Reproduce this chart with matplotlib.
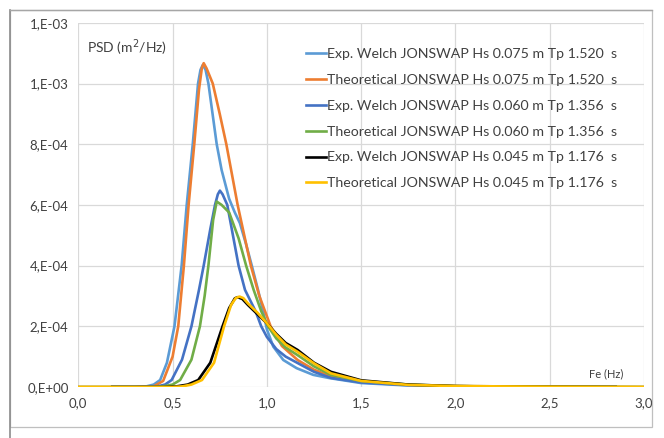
import matplotlib
matplotlib.use("Agg")
import matplotlib.pyplot as plt
from matplotlib.patches import Rectangle
from matplotlib.lines import Line2D

plt.rcParams['font.family'] = ['Lato', 'DejaVu Sans']

# Exp. Welch JONSWAP Hs 0.075 m Tp 1.520 s
f_exp75 = [0.18, 0.30, 0.36, 0.40, 0.434, 0.47, 0.51, 0.548, 0.575, 0.607, 0.635, 0.648, 0.66, 0.675, 0.69,
           0.734, 0.76, 0.80, 0.83, 0.857, 0.89, 0.92, 0.953, 0.98, 1.0, 1.034, 1.087, 1.158, 1.246, 1.335,
           1.5, 1.75, 2.0, 2.25, 2.85]
s_exp75 = [0.0, 0.0, 0.002, 0.008, 0.023, 0.08, 0.2, 0.4, 0.6, 0.8, 1.0, 1.045, 1.061, 1.045, 1.0,
           0.8, 0.715, 0.62, 0.575, 0.54, 0.47, 0.4, 0.32, 0.25, 0.19, 0.133, 0.089, 0.062, 0.04, 0.029,
           0.013, 0.005, 0.002, 0.001, 0.0]

# Theoretical JONSWAP Hs 0.075 m Tp 1.520 s
f_th75 = [0.0, 0.30, 0.40, 0.45, 0.50, 0.53, 0.56, 0.585, 0.615, 0.64, 0.655, 0.665, 0.68, 0.713, 0.75,
          0.785, 0.815, 0.845, 0.88, 0.915, 0.96, 1.02, 1.08, 1.163, 1.25, 1.34, 1.5, 1.75, 2.0, 2.5, 3.0]
s_th75 = [0.0, 0.0, 0.002, 0.02, 0.1, 0.2, 0.4, 0.6, 0.8, 0.98, 1.05, 1.067, 1.05, 1.0, 0.9,
          0.8, 0.7, 0.6, 0.5, 0.4, 0.3, 0.2, 0.135, 0.089, 0.057, 0.035, 0.018, 0.007, 0.003, 0.001, 0.0]

# Exp. Welch JONSWAP Hs 0.060 m Tp 1.356 s
f_exp60 = [0.18, 0.35, 0.42, 0.46, 0.495, 0.55, 0.60, 0.64, 0.665, 0.70, 0.725, 0.74, 0.751, 0.765, 0.79,
           0.82, 0.85, 0.884, 0.94, 0.97, 1.0, 1.05, 1.1, 1.163, 1.25, 1.34, 1.5, 1.75, 2.0, 2.25, 2.85]
s_exp60 = [0.0, 0.0, 0.002, 0.008, 0.023, 0.09, 0.2, 0.32, 0.4, 0.52, 0.6, 0.635, 0.647, 0.635, 0.6,
           0.5, 0.4, 0.32, 0.25, 0.2, 0.165, 0.125, 0.1, 0.079, 0.05, 0.03, 0.015, 0.006, 0.002, 0.001, 0.0]

# Theoretical JONSWAP Hs 0.060 m Tp 1.356 s
f_th60 = [0.0, 0.40, 0.45, 0.50, 0.54, 0.60, 0.645, 0.67, 0.69, 0.715, 0.734, 0.76, 0.80, 0.85, 0.89,
          0.93, 0.97, 1.006, 1.05, 1.1, 1.163, 1.25, 1.34, 1.5, 1.75, 2.0, 2.5, 3.0]
s_th60 = [0.0, 0.0, 0.002, 0.008, 0.023, 0.09, 0.2, 0.3, 0.4, 0.55, 0.611, 0.6, 0.575, 0.49, 0.4,
          0.32, 0.25, 0.2, 0.16, 0.13, 0.105, 0.068, 0.04, 0.02, 0.008, 0.003, 0.001, 0.0]

# Exp. Welch JONSWAP Hs 0.045 m Tp 1.176 s
f_exp45 = [0.18, 0.45, 0.52, 0.58, 0.636, 0.70, 0.765, 0.80, 0.83, 0.845, 0.87, 0.90, 0.95, 1.0, 1.05,
           1.1, 1.163, 1.25, 1.34, 1.5, 1.75, 2.0, 2.25, 2.85]
s_exp45 = [0.0, 0.0, 0.002, 0.008, 0.023, 0.08, 0.2, 0.26, 0.292, 0.296, 0.29, 0.27, 0.24, 0.21, 0.175,
           0.145, 0.122, 0.08, 0.05, 0.022, 0.008, 0.003, 0.001, 0.0]

# Theoretical JONSWAP Hs 0.045 m Tp 1.176 s
f_th45 = [0.0, 0.50, 0.55, 0.60, 0.656, 0.72, 0.773, 0.81, 0.835, 0.855, 0.875, 0.90, 0.95, 1.0, 1.05,
          1.1, 1.163, 1.25, 1.34, 1.5, 1.75, 2.0, 2.5, 3.0]
s_th45 = [0.0, 0.0, 0.002, 0.008, 0.023, 0.08, 0.2, 0.27, 0.293, 0.298, 0.293, 0.275, 0.245, 0.21, 0.172,
          0.14, 0.116, 0.078, 0.045, 0.02, 0.007, 0.003, 0.001, 0.0]

labels = ["Exp. Welch JONSWAP Hs 0.075 m Tp 1.520  s",
          "Theoretical JONSWAP Hs 0.075 m Tp 1.520  s",
          "Exp. Welch JONSWAP Hs 0.060 m Tp 1.356  s",
          "Theoretical JONSWAP Hs 0.060 m Tp 1.356  s",
          "Exp. Welch JONSWAP Hs 0.045 m Tp 1.176  s",
          "Theoretical JONSWAP Hs 0.045 m Tp 1.176  s"]
colors = ["#5B9BD5", "#ED7D31", "#4472C4", "#70AD47", "#000000", "#FFC000"]

x_ticks = [0.0, 0.5, 1.0, 1.5, 2.0, 2.5, 3.0]
x_labels = ["0,0", "0,5", "1,0", "1,5", "2,0", "2,5", "3,0"]
y_ticks = [0.0, 2e-4, 4e-4, 6e-4, 8e-4, 1e-3, 1.2e-3]
y_labels = ["0,E+00", "2,E-04", "4,E-04", "6,E-04", "8,E-04", "1,E-03", "1,E-03"]

fig = plt.figure(figsize=(6.64, 4.38), dpi=100)
ax = fig.add_axes([78.3 / 664, 1 - 387 / 438, (644 - 78.3) / 664, (387 - 22.8) / 438])

series = [(f_exp75, s_exp75), (f_th75, s_th75), (f_exp60, s_exp60),
          (f_th60, s_th60), (f_exp45, s_exp45), (f_th45, s_th45)]
for (f, s), c, lab in zip(series, colors, labels):
    ax.plot(f, [v * 1e-3 for v in s], color=c, lw=1.9, label=lab, solid_joinstyle="round")

ax.set_xlim(0, 3.0)
ax.set_ylim(0, 1.2e-3)
ax.set_xticks(x_ticks)
ax.set_xticklabels(x_labels)
ax.set_yticks(y_ticks)
ax.set_yticklabels(y_labels)
ax.tick_params(length=0, labelsize=9.5, colors="#404040", pad=7)
ax.grid(True, color="#d9d9d9", lw=0.9)
ax.set_axisbelow(True)
for sp in ax.spines.values():
    sp.set_visible(False)

ax.text(0.016, 0.96, "PSD (m$^2$/Hz)", transform=ax.transAxes, fontsize=10, color="#404040",
        va="top", ha="left")
ax.text(2.8, 4.5e-5, "Fe (Hz)", fontsize=8, color="#404040", ha="center", va="center")

handles = [Line2D([0], [0], color=c, lw=1.9) for c in colors]
leg = ax.legend(handles, labels, loc="upper right", bbox_to_anchor=(0.975, 0.966), frameon=False,
                fontsize=10.2, handlelength=1.4, handletextpad=0.05, labelspacing=0.98,
                labelcolor="#404040")

fig.patches.append(Rectangle((10 / 664, 11 / 438), 642 / 664, 417 / 438, transform=fig.transFigure,
                             fill=False, edgecolor="#bfbfbf", lw=0.9))
fig.lines.append(Line2D([10 / 664, 10 / 664], [0, 428 / 438], transform=fig.transFigure,
                        color="#8c8c8c", lw=1.2))
fig.lines.append(Line2D([10 / 664, 652 / 664], [428 / 438, 428 / 438], transform=fig.transFigure,
                        color="#a6a6a6", lw=1.0))

fig.savefig("out.png", dpi=100)
